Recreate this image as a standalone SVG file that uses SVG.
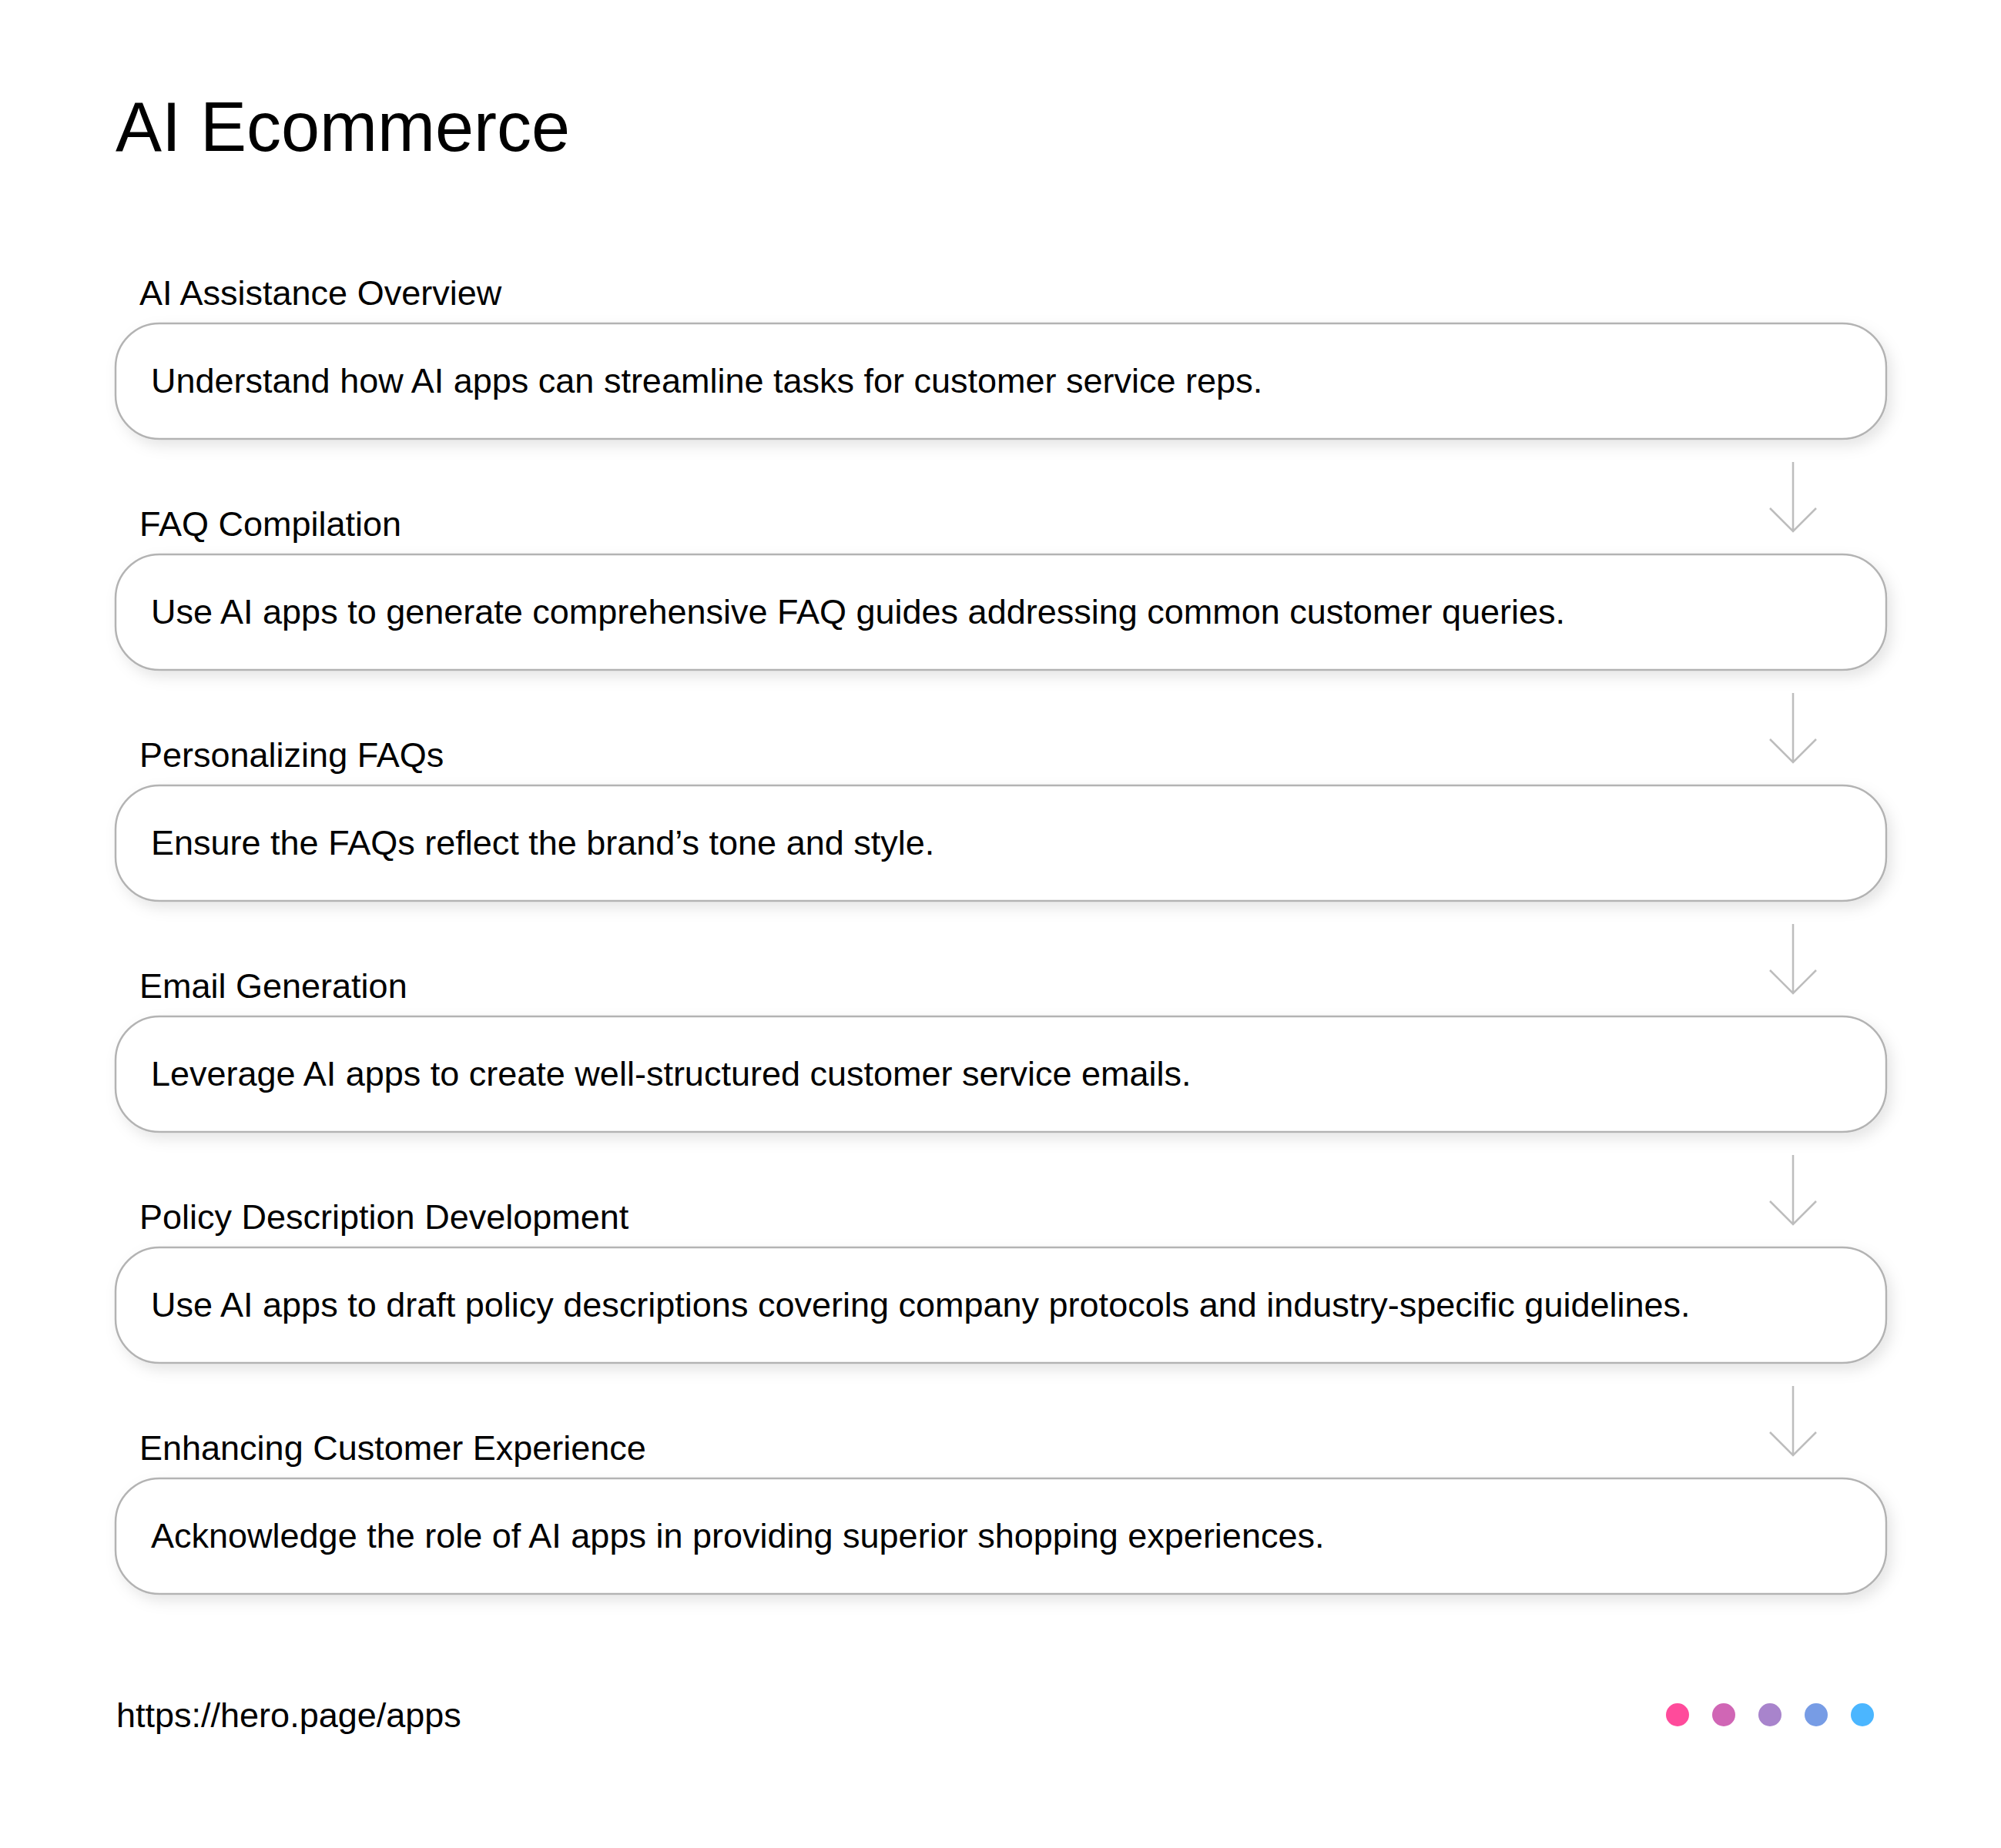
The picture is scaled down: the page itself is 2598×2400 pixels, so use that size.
<svg xmlns="http://www.w3.org/2000/svg" width="2598" height="2400" viewBox="0 0 2598 2400">
<defs>
<filter id="sh" x="-5%" y="-30%" width="110%" height="160%">
<feDropShadow dx="6" dy="8" stdDeviation="9" flood-color="#000" flood-opacity="0.10"/>
</filter>
</defs>
<style>
text{font-family:"Liberation Sans",Arial,Helvetica,sans-serif;fill:#000}
.title{font-size:90px}
.lbl{font-size:45px}
.body{font-size:45px}
.box{fill:#fff;stroke:#b3b3b3;stroke-width:2.5;filter:url(#sh)}
.arr{fill:none;stroke:#bdbdbd;stroke-width:2.5}
.foot{font-size:45px}
</style>
<rect width="2598" height="2400" fill="#fff"/>
<text class="title" x="150" y="196">AI Ecommerce</text>
<g id="connectors">
<path class="arr" d="M2328 600V690M2298 660L2328 690L2358 660"/>
<path class="arr" d="M2328 900V990M2298 960L2328 990L2358 960"/>
<path class="arr" d="M2328 1200V1290M2298 1260L2328 1290L2358 1260"/>
<path class="arr" d="M2328 1500V1590M2298 1560L2328 1590L2358 1560"/>
<path class="arr" d="M2328 1800V1890M2298 1860L2328 1890L2358 1860"/>
</g>
<g id="node1">
<text class="lbl" x="181" y="396">AI Assistance Overview</text>
<rect class="box" x="150" y="420" width="2299" height="150" rx="57"/>
<text class="body" x="196" y="510">Understand how AI apps can streamline tasks for customer service reps.</text>
</g>
<g id="node2">
<text class="lbl" x="181" y="696">FAQ Compilation</text>
<rect class="box" x="150" y="720" width="2299" height="150" rx="57"/>
<text class="body" x="196" y="810">Use AI apps to generate comprehensive FAQ guides addressing common customer queries.</text>
</g>
<g id="node3">
<text class="lbl" x="181" y="996">Personalizing FAQs</text>
<rect class="box" x="150" y="1020" width="2299" height="150" rx="57"/>
<text class="body" x="196" y="1110">Ensure the FAQs reflect the brand’s tone and style.</text>
</g>
<g id="node4">
<text class="lbl" x="181" y="1296">Email Generation</text>
<rect class="box" x="150" y="1320" width="2299" height="150" rx="57"/>
<text class="body" x="196" y="1410">Leverage AI apps to create well-structured customer service emails.</text>
</g>
<g id="node5">
<text class="lbl" x="181" y="1596">Policy Description Development</text>
<rect class="box" x="150" y="1620" width="2299" height="150" rx="57"/>
<text class="body" x="196" y="1710">Use AI apps to draft policy descriptions covering company protocols and industry-specific guidelines.</text>
</g>
<g id="node6">
<text class="lbl" x="181" y="1896">Enhancing Customer Experience</text>
<rect class="box" x="150" y="1920" width="2299" height="150" rx="57"/>
<text class="body" x="196" y="2010">Acknowledge the role of AI apps in providing superior shopping experiences.</text>
</g>
<text class="foot" x="151" y="2243">https://hero.page/apps</text>
<g id="dots">
<circle cx="2178" cy="2227" r="15" fill="#ff4b9b"/>
<circle cx="2238" cy="2227" r="15" fill="#d066b5"/>
<circle cx="2298" cy="2227" r="15" fill="#a884cc"/>
<circle cx="2358" cy="2227" r="15" fill="#779ce5"/>
<circle cx="2418" cy="2227" r="15" fill="#4bb6ff"/>
</g>
</svg>
